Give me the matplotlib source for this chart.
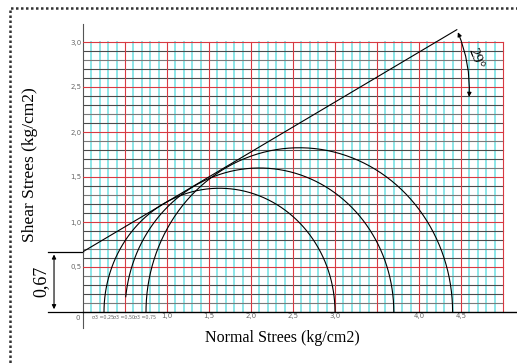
import numpy as np
import matplotlib
matplotlib.use('Agg')
import matplotlib.pyplot as plt
from matplotlib.patches import FancyArrowPatch, Rectangle

# test data (kg/cm2)
sigma3 = [0.25, 0.50, 0.75]
sigma1 = [3.00, 3.70, 4.40]
cohesion = 0.67
phi_deg = 29
x_ticks = [1.0, 1.5, 2.0, 2.5, 3.0, 4.0, 4.5]
x_tick_labels = ['1,0', '1,5', '2,0', '2,5', '3,0', '4,0', '4,5']
y_ticks = [0.5, 1.0, 1.5, 2.0, 2.5, 3.0]
y_tick_labels = ['0,5', '1,0', '1,5', '2,0', '2,5', '3,0']
s3_labels = ['σ3 =0,25', 'σ3 =0,50', 'σ3 =0,75']

serif = ['Liberation Serif', 'DejaVu Serif']

fig = plt.figure(figsize=(5.17, 3.64), dpi=100)
ax = fig.add_axes([83 / 517, 36 / 364, 434 / 517, 304 / 364])
ax.set_xlim(0, 434 / 84)
ax.set_ylim(-16 / 90, 288 / 90)

# graph paper
for x in np.arange(0.1, 5.0, 0.1):
    if abs(x * 2 - round(x * 2)) > 1e-6:
        ax.plot([x, x], [0, 3], color='#84e4e6', lw=1.3, zorder=1)
for k, y in enumerate(np.arange(0.1, 3.0, 0.1)):
    if abs(y * 2 - round(y * 2)) > 1e-6:
        ax.plot([0, 5], [y, y], color='#4a4a4a' if k % 3 else '#7a7a7a', lw=0.8, zorder=2)
for x in np.arange(0.5, 5.01, 0.5):
    ax.plot([x, x], [0, 3], color='#d83a42', lw=0.8, zorder=3)
for y in np.arange(0.5, 3.01, 0.5):
    ax.plot([0, 5], [y, y], color='#d83a42', lw=0.8, zorder=3)

# Mohr circles
for i, (s3, s1) in enumerate(zip(sigma3, sigma1)):
    c = (s1 + s3) / 2
    r = (s1 - s3) / 2
    t_end = np.pi if i != 1 else np.pi - np.arcsin(0.17 / r)
    t = np.linspace(0, t_end, 300)
    ax.plot(c + r * np.cos(t), r * np.sin(t), color='black', lw=0.8, zorder=5)

# failure envelope
x_end = 4.45
xs = np.array([0, x_end])
ax.plot(xs, cohesion + np.tan(np.radians(phi_deg)) * xs, color='black', lw=0.8, zorder=6)

# angle mark
y_end = cohesion + np.tan(np.radians(phi_deg)) * x_end
ax.add_patch(FancyArrowPatch((x_end, y_end), (4.595, 2.36), arrowstyle='<|-|>',
                             mutation_scale=6, connectionstyle='arc3,rad=-0.12',
                             color='black', lw=0.8, zorder=7, clip_on=False))
ax.text(4.68, 2.82, '%d°' % phi_deg, rotation=-68, fontsize=11, family=serif,
        ha='center', va='center', zorder=8)

# cohesion dimension
ax.plot([-0.42, 0], [cohesion, cohesion], color='black', lw=0.9, clip_on=False)
ax.plot([-0.42, 0], [0, 0], color='black', lw=0.9, clip_on=False)
ax.add_patch(FancyArrowPatch((-0.345, 0), (-0.345, cohesion), arrowstyle='<|-|>',
                             mutation_scale=6, color='black', lw=0.8, clip_on=False))
ax.text(-0.5, cohesion / 2, '0,67', rotation=90, fontsize=13, family=serif,
        ha='center', va='center')

# axes
for s in ['top', 'right', 'bottom']:
    ax.spines[s].set_visible(False)
ax.spines['left'].set_color('#555555')
ax.plot([0, 434 / 84], [0, 0], color='black', lw=1.0, zorder=4, clip_on=False)

ax.set_xticks(x_ticks)
ax.set_xticklabels(x_tick_labels)
ax.set_yticks(y_ticks)
ax.set_yticklabels(y_tick_labels)
ax.tick_params(length=0, labelsize=5, colors='#666666', pad=1)
for lbl in ax.get_xticklabels():
    lbl.set_y(0.055)
for s3, lab in zip(sigma3, s3_labels):
    ax.text(s3 - 0.01, -0.035, lab, fontsize=3.4, color='#666666', ha='center', va='top')
ax.text(-0.03, -0.035, '0', fontsize=5, color='#666666', ha='right', va='top')

fig.text(282 / 517, 1 - 338 / 364, 'Normal Strees (kg/cm2)', fontsize=11.5,
         family=serif, ha='center', va='center')
fig.text(30 / 517, 1 - 165 / 364, 'Shear Strees (kg/cm2)', fontsize=12.5,
         family=serif, rotation=90, ha='center', va='center')

# page border
fig.patches.append(Rectangle((10 / 517, -0.2), 1.2, 1.2 - 8 / 364, transform=fig.transFigure,
                             fill=False, ls=(0, (1, 1)), lw=1.8, color='#333333'))

fig.savefig('out.png', dpi=100, facecolor='white')
